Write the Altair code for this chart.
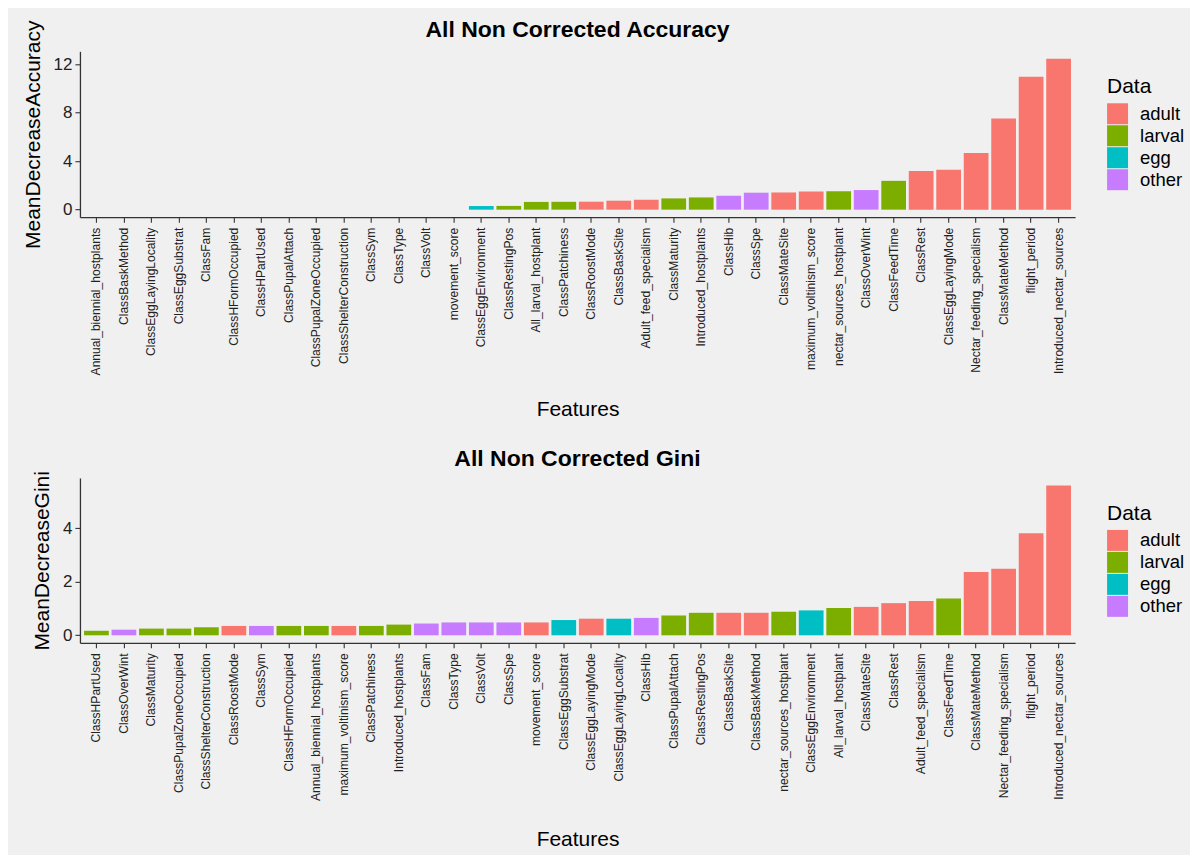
import altair as alt
import pandas as pd

FONT = "Liberation Sans"

# feature -> data group
all_features = [
    "Annual_biennial_hostplants", "ClassBaskMethod", "ClassEggLayingLocality", "ClassEggSubstrat",
    "ClassFam", "ClassHFormOccupied", "ClassHPartUsed", "ClassPupalAttach", "ClassPupalZoneOccupied",
    "ClassShelterConstruction", "ClassSym", "ClassType", "ClassVolt", "movement_score",
    "ClassEggEnvironment", "ClassRestingPos", "All_larval_hostplant", "ClassPatchiness",
    "ClassRoostMode", "ClassBaskSite", "Adult_feed_specialism", "ClassMaturity",
    "Introduced_hostplants", "ClassHib", "ClassSpe", "ClassMateSite", "maximum_voltinism_score",
    "nectar_sources_hostplant", "ClassOverWint", "ClassFeedTime", "ClassRest", "ClassEggLayingMode",
    "Nectar_feeding_specialism", "ClassMateMethod", "flight_period", "Introduced_nectar_sources",
]
all_groups = [
    "larval", "adult", "egg", "egg",
    "other", "larval", "larval", "larval", "larval",
    "larval", "other", "other", "other", "adult",
    "egg", "larval", "larval", "larval",
    "adult", "adult", "adult", "larval",
    "larval", "other", "other", "adult", "adult",
    "larval", "other", "larval", "adult", "adult",
    "adult", "adult", "adult", "adult",
]

# Panel 1: MeanDecreaseAccuracy (in plotted order)
acc_features = list(all_features)
acc_values = [
    0, 0, 0, 0, 0, 0, 0, 0, 0, 0, 0, 0, 0, 0,
    0.30, 0.31, 0.64, 0.65, 0.66, 0.74, 0.82, 0.93, 1.01, 1.15, 1.40, 1.42,
    1.50, 1.52, 1.62, 2.38, 3.20, 3.29, 4.68, 7.53, 10.98, 12.45,
]

# Panel 2: MeanDecreaseGini (in plotted order)
gini_features = [
    "ClassHPartUsed", "ClassOverWint", "ClassMaturity", "ClassPupalZoneOccupied",
    "ClassShelterConstruction", "ClassRoostMode", "ClassSym", "ClassHFormOccupied",
    "Annual_biennial_hostplants", "maximum_voltinism_score", "ClassPatchiness",
    "Introduced_hostplants", "ClassFam", "ClassType", "ClassVolt", "ClassSpe", "movement_score",
    "ClassEggSubstrat", "ClassEggLayingMode", "ClassEggLayingLocality", "ClassHib",
    "ClassPupalAttach", "ClassRestingPos", "ClassBaskSite", "ClassBaskMethod",
    "nectar_sources_hostplant", "ClassEggEnvironment", "All_larval_hostplant", "ClassMateSite",
    "ClassRest", "Adult_feed_specialism", "ClassFeedTime", "ClassMateMethod",
    "Nectar_feeding_specialism", "flight_period", "Introduced_nectar_sources",
]
gini_values = [
    0.17, 0.21, 0.25, 0.25, 0.30, 0.35, 0.35, 0.35, 0.35, 0.35, 0.35, 0.40,
    0.44, 0.48, 0.48, 0.48, 0.48, 0.57, 0.62, 0.62, 0.65, 0.74, 0.84, 0.84,
    0.84, 0.88, 0.93, 1.02, 1.06, 1.20, 1.28, 1.37, 2.36, 2.48, 3.81, 5.59,
]

group_order = ["adult", "larval", "egg", "other"]
group_colors = ["#F8766D", "#7CAE00", "#00BFC4", "#C77CFF"]
group_of = dict(zip(all_features, all_groups))


def panel(features, values, title, ytitle, domain, ticks, height, title_offset, xtitle_pad):
    df = pd.DataFrame({
        "Features": features,
        "value": values,
        "Data": [group_of[f] for f in features],
    })
    return alt.Chart(
        df,
        title=alt.TitleParams(title, fontSize=23, fontWeight="bold", font=FONT,
                              color="black", anchor="middle", offset=title_offset),
    ).mark_bar().encode(
        x=alt.X("Features:N", sort=features,
                scale=alt.Scale(paddingInner=0.1, paddingOuter=0.15),
                axis=alt.Axis(title="Features", labelAngle=270, labelFontSize=12.1,
                              labelPadding=5, tickSize=5, titlePadding=xtitle_pad)),
        y=alt.Y("value:Q", title=ytitle,
                scale=alt.Scale(domain=domain, nice=False, zero=False),
                axis=alt.Axis(values=ticks, labelFontSize=17, labelPadding=3,
                              tickSize=5, titlePadding=10)),
        y2=alt.datum(0),
        color=alt.Color("Data:N",
                        scale=alt.Scale(domain=group_order, range=group_colors),
                        legend=alt.Legend(orient="none", legendX=1028, legendY=25,
                                          title="Data")),
    ).properties(width=996, height=height)


top = panel(acc_features, acc_values, "All Non Corrected Accuracy",
            "MeanDecreaseAccuracy", [-0.62, 13.07], [0, 4, 8, 12], 166, -22, 24)
bottom = panel(gini_features, gini_values, "All Non Corrected Gini",
               "MeanDecreaseGini", [-0.28, 5.87], [0, 2, 4], 165, 0, 28)

chart = alt.vconcat(top, bottom, spacing=27).resolve_scale(
    color="independent", x="independent", y="independent"
).properties(
    padding={"left": 14, "top": 10, "right": 5, "bottom": 5},
    background="#F0F0F0",
).configure_view(
    stroke=None,
).configure_axis(
    labelFont=FONT, titleFont=FONT, labelColor="#222222", titleColor="black",
    titleFontSize=21, titleFontWeight="normal", domainColor="#333333",
    tickColor="#333333", domainWidth=1.3, tickWidth=1.1, grid=False,
).configure_legend(
    titleFont=FONT, labelFont=FONT, titleFontSize=21, titleFontWeight="normal",
    titleColor="black", labelFontSize=18.5, labelColor="black",
    symbolType="square", symbolSize=441, symbolStrokeWidth=0, symbolOpacity=1,
    rowPadding=1, labelOffset=12, titlePadding=6,
)

chart.save("out.html", embed_options={"renderer": "svg", "actions": False})
